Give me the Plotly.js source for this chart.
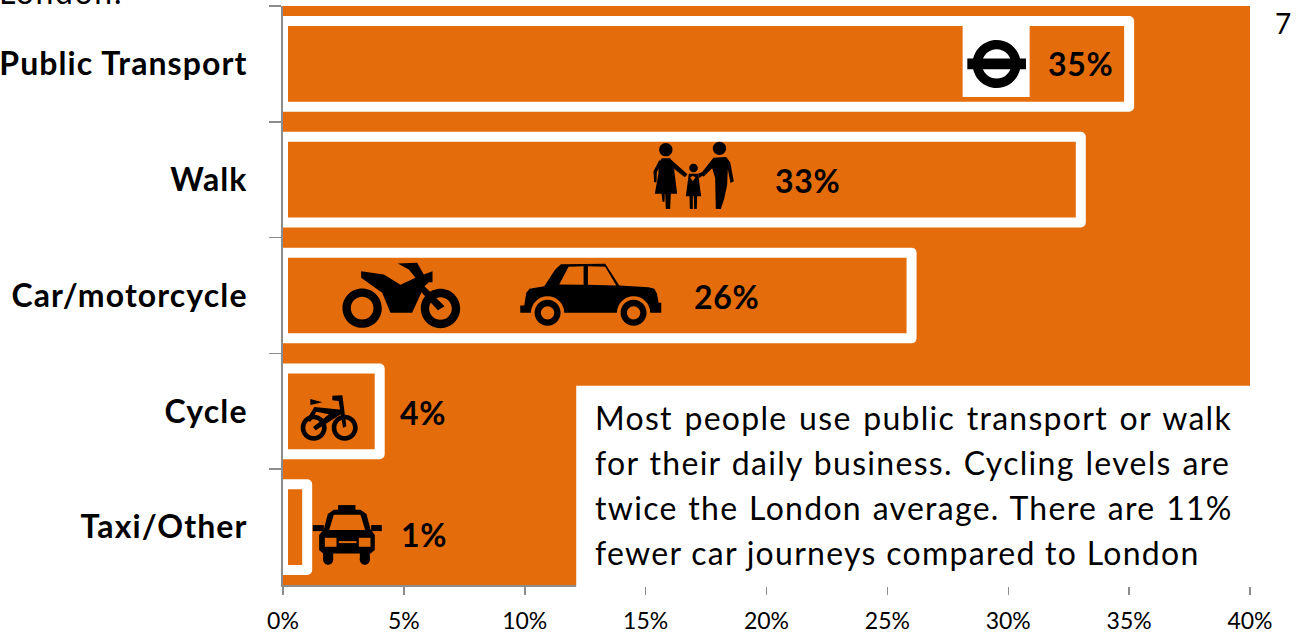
<!DOCTYPE html>
<html>
<head>
<meta charset="utf-8">
<script src="https://cdn.plot.ly/plotly-3.0.1.min.js"></script>
<style>
  html, body { margin: 0; padding: 0; background: #fff; overflow: hidden; }
  #chart { width: 1296px; height: 644px; }
  .bars .point path { stroke-linejoin: round; }
  .ytick text { letter-spacing: 1.1px; }
</style>
</head>
<body>
<div id="chart"></div>
<script>
// Mode share of daily trips
const modes = ['Public Transport', 'Walk', 'Car/motorcycle', 'Cycle', 'Taxi/Other'];
const shares = [35, 33, 26, 4, 1];
const xTicks = [0, 5, 10, 15, 20, 25, 30, 35, 40];
const noteLines = [
  'Most people use public transport or walk',
  'for their daily business. Cycling levels are',
  'twice the London average. There are 11%',
  'fewer car journeys compared to London'
];
// Word gaps widen on the first three lines so the paragraph reads as justified
const noteWordGap = [2.1, 1.4, 1.2, 0];
// Percent labels sit away from the bar ends, offset in pixels
const labelDx = [-49, -273, -185, 43, 117];
const labelDy = [0, -1, -1, -1.5, -7];

const ORANGE = '#e46c0a';
const AXIS = '#8c8c8c';
const FONT = 'Lato, "Open Sans", sans-serif';

// Pictogram helpers: coordinates are drawn at 3x and centred on (cx, cy)
function pen(cx, cy) {
  const s = 1 / 3;
  const X = x => ((x - cx) * s).toFixed(2);
  const Y = y => (-(y - cy) * s).toFixed(2);
  const poly = pts => 'M' + pts.map(p => X(p[0]) + ',' + Y(p[1])).join('L') + 'Z';
  const rect = (x0, y0, x1, y1) => poly([[x0, y0], [x1, y0], [x1, y1], [x0, y1]]);
  const circ = (x, y, r) => {
    const k = r * 0.5523;
    return 'M' + X(x + r) + ',' + Y(y) +
      'C' + X(x + r) + ',' + Y(y + k) + ' ' + X(x + k) + ',' + Y(y + r) + ' ' + X(x) + ',' + Y(y + r) +
      'C' + X(x - k) + ',' + Y(y + r) + ' ' + X(x - r) + ',' + Y(y + k) + ' ' + X(x - r) + ',' + Y(y) +
      'C' + X(x - r) + ',' + Y(y - k) + ' ' + X(x - k) + ',' + Y(y - r) + ' ' + X(x) + ',' + Y(y - r) +
      'C' + X(x + k) + ',' + Y(y - r) + ' ' + X(x + r) + ',' + Y(y - k) + ' ' + X(x + r) + ',' + Y(y) + 'Z';
  };
  return { poly, rect, circ };
}

const shapes = [];
function addPath(xAt, cat, path, fill) {
  shapes.push({
    type: 'path', layer: 'above',
    xref: 'x', yref: 'y', xsizemode: 'pixel', ysizemode: 'pixel',
    xanchor: xAt, yanchor: cat, path: path,
    fillcolor: fill,
    fillrule: 'evenodd',
    line: { width: 0 }
  });
}

// White panel holding the commentary, covering the lower right of the axes
shapes.push({
  type: 'rect', layer: 'above', xref: 'x', yref: 'paper',
  x0: 12.13, x1: 40.1, y0: -0.0035, y1: 0.3443,
  fillcolor: '#ffffff', line: { width: 0 }
});

// Underground roundel
(function () {
  const at = 29.52, cat = modes[0], p = pen(0, 0);
  addPath(at, cat, p.rect(-102, -114, 99, 99), '#ffffff');
  addPath(at, cat, p.circ(0, 0, 72) + p.circ(0, 0, 44), '#000000');
  addPath(at, cat, p.rect(-88, -16, 88, 16), '#000000');
})();

// Family holding hands
(function () {
  const at = 16.98, cat = modes[1], p = pen(190, 150);
  const parts = [
    p.circ(107, 60, 20), p.circ(268, 56, 20), p.circ(190, 115, 13),
    // woman
    p.poly([[95, 86], [120, 86], [130, 104], [141, 192], [74, 192], [85, 130], [86, 100]]),
    p.poly([[88, 90], [70, 125], [72, 158], [79, 158], [80, 128], [92, 105]]),
    p.poly([[116, 84], [172, 134], [164, 143], [122, 110]]),
    p.poly([[105, 190], [122, 190], [120, 238], [107, 238]]),
    p.poly([[94, 190], [104, 190], [103, 216], [97, 216]]),
    // child
    p.poly([[176, 132], [204, 132], [213, 200], [167, 200]]),
    p.poly([[178, 198], [188, 198], [188, 238], [179, 238]]),
    p.poly([[191, 198], [201, 198], [200, 238], [192, 238]]),
    p.poly([[204, 132], [218, 126], [224, 134], [206, 146]]),
    // man
    p.poly([[250, 84], [288, 82], [300, 98], [311, 155], [301, 160], [293, 118], [291, 165], [282, 208], [272, 238], [257, 238], [255, 145], [246, 116], [220, 141], [212, 132]])
  ];
  parts.forEach(d => addPath(at, cat, d, '#000000'));
  addPath(at, cat, p.poly([[180, 143], [188, 139], [196, 143], [188, 155]]), ORANGE);
})();

// Motorcycle
(function () {
  const at = 4.86, cat = modes[2], p = pen(240, 138);
  addPath(at, cat, p.circ(125, 176, 59) + p.circ(125, 176, 34), '#000000');
  addPath(at, cat, p.circ(360, 177, 59) + p.circ(360, 177, 34), '#000000');
  addPath(at, cat, p.poly([[122, 65], [190, 75], [240, 106], [285, 85], [265, 60], [232, 42], [290, 40], [310, 75], [336, 65], [336, 98], [325, 98], [312, 110], [372, 170], [352, 182], [303, 128], [275, 190], [210, 190], [185, 130], [122, 85]]), '#000000');
})();

// Car
(function () {
  const at = 12.71, cat = modes[2], p = pen(810, 138);
  addPath(at, cat, p.poly([[600, 190], [600, 168], [612, 168], [618, 130], [628, 118], [672, 110], [705, 60], [722, 44], [855, 43], [897, 108], [985, 113], [1002, 118], [1010, 132], [1015, 160], [1023, 160], [1023, 190]]), '#000000');
  addPath(at, cat, p.poly([[717, 105], [745, 52], [790, 50], [790, 106]]), ORANGE);
  addPath(at, cat, p.poly([[803, 50], [855, 52], [888, 108], [803, 106]]), ORANGE);
  addPath(at, cat, p.circ(682, 190, 50), ORANGE);
  addPath(at, cat, p.circ(940, 190, 50), ORANGE);
  addPath(at, cat, p.circ(682, 190, 39) + p.circ(682, 190, 20), '#000000');
  addPath(at, cat, p.circ(940, 190, 39) + p.circ(940, 190, 20), '#000000');
})();

// Bicycle
(function () {
  const at = 1.89, cat = modes[3], p = pen(175, 155);
  addPath(at, cat, p.circ(130, 204, 39) + p.circ(130, 204, 25), '#000000');
  addPath(at, cat, p.circ(223, 204, 39) + p.circ(223, 204, 25), '#000000');
  addPath(at, cat, p.poly([[120, 118], [156, 128], [120, 136]]), '#000000');
  addPath(at, cat, p.poly([[186, 108], [216, 107], [228, 200], [218, 204], [205, 124], [186, 122]]), '#000000');
  addPath(at, cat, p.poly([[132, 142], [214, 150], [214, 162], [136, 212], [128, 202], [176, 164], [138, 156], [120, 186], [108, 182]]), '#000000');
})();

// Taxi
(function () {
  const at = 2.64, cat = modes[4], p = pen(229, 171);
  addPath(at, cat, p.rect(203, 105, 255, 125), '#000000');
  addPath(at, cat, p.poly([[190, 119], [270, 119], [288, 132], [302, 185], [158, 185], [172, 132]]), '#000000');
  addPath(at, cat, p.poly([[190, 134], [270, 134], [284, 180], [176, 180]]), ORANGE);
  addPath(at, cat, p.poly([[158, 180], [302, 180], [313, 195], [313, 240], [300, 250], [158, 250], [146, 240], [146, 195]]), '#000000');
  addPath(at, cat, p.rect(127, 165, 160, 183), '#000000');
  addPath(at, cat, p.rect(302, 165, 334, 183), '#000000');
  addPath(at, cat, p.rect(163, 203, 198, 230), ORANGE);
  addPath(at, cat, p.rect(265, 203, 300, 230), ORANGE);
  addPath(at, cat, p.rect(205, 213, 258, 219), ORANGE);
  addPath(at, cat, p.rect(158, 245, 188, 270), '#000000');
  addPath(at, cat, p.circ(173, 269, 15), '#000000');
  addPath(at, cat, p.rect(268, 245, 298, 270), '#000000');
  addPath(at, cat, p.circ(283, 269, 15), '#000000');
})();

const spaced = (t, ls, ws) =>
  '<span style="letter-spacing:' + ls + 'px;word-spacing:' + ws + 'px">' + t + '</span>';

// Percent labels on each mode, then the commentary and the page furniture
const annotations = modes.map((m, i) => ({
  x: shares[i], y: m, xref: 'x', yref: 'y',
  text: '<b>' + spaced(shares[i] + '%', 0.7, 0) + '</b>',
  showarrow: false, xanchor: 'center', yanchor: 'middle',
  xshift: labelDx[i], yshift: labelDy[i],
  font: { family: FONT, size: 32, color: '#000' }
}));

const plotL = 282.5, plotT = 6, plotW = 967.5, plotH = 579.5;
const px = x => (x - plotL) / plotW;
const py = y => 1 - (y - plotT) / plotH;

noteLines.forEach((t, i) => {
  annotations.push({
    xref: 'paper', yref: 'paper',
    x: px(593), y: py(418 + i * 45),
    text: spaced(t, 1.29, noteWordGap[i]), showarrow: false, xanchor: 'left', yanchor: 'middle', align: 'left',
    font: { family: FONT, size: 32, color: '#000' }
  });
});
annotations.push({
  xref: 'paper', yref: 'paper', x: px(1283), y: py(23),
  text: '7', showarrow: false, xanchor: 'center', yanchor: 'middle',
  font: { family: FONT, size: 28, color: '#000' }
});
annotations.push({
  xref: 'paper', yref: 'paper', x: px(-4), y: py(-9), xanchor: 'left', yanchor: 'middle',
  text: spaced('London:', 1.6, 0), showarrow: false,
  font: { family: FONT, size: 32, color: '#000' }
});

const trace = {
  type: 'bar', orientation: 'h',
  x: shares, y: modes,
  width: 0.74,
  marker: { color: ORANGE, line: { color: '#ffffff', width: 10 } },
  hoverinfo: 'skip'
};

const layout = {
  width: 1296, height: 644,
  margin: { l: 282.5, r: 46, t: 6, b: 58.5, pad: 0 },
  paper_bgcolor: '#ffffff',
  plot_bgcolor: ORANGE,
  showlegend: false,
  font: { family: FONT, color: '#000' },
  xaxis: {
    range: [0, 40], tickmode: 'array', tickvals: xTicks,
    ticktext: xTicks.map(v => v + '%'),
    showgrid: false, zeroline: false, showline: true,
    linecolor: AXIS, linewidth: 2,
    ticks: 'outside', ticklen: 8, tickwidth: 1.5, tickcolor: AXIS,
    ticklabelstandoff: 6,
    tickfont: { family: FONT, size: 23, color: '#000' }
  },
  yaxis: {
    type: 'category', categoryorder: 'array', categoryarray: modes,
    range: [4.5, -0.5],
    tickson: 'boundaries', showgrid: false, zeroline: false, showline: true,
    linecolor: AXIS, linewidth: 2,
    ticks: 'outside', ticklen: 12, tickwidth: 1.5, tickcolor: AXIS,
    ticklabelstandoff: 27,
    tickprefix: '<b>', ticksuffix: '</b>',
    tickfont: { family: FONT, size: 32, color: '#000' }
  },
  shapes: shapes,
  annotations: annotations
};

Plotly.newPlot('chart', [trace], layout, { displayModeBar: false, staticPlot: true });
</script>
</body>
</html>
